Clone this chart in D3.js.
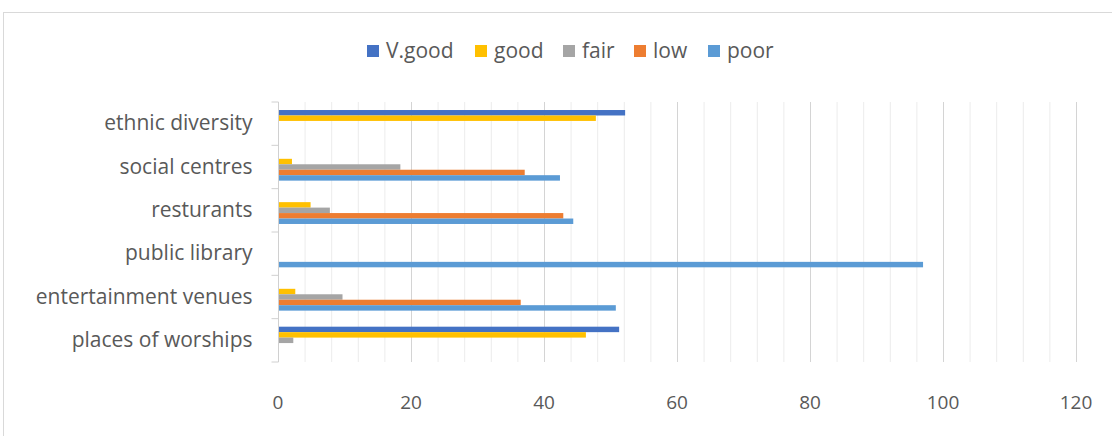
<!DOCTYPE html>
<html>
<head>
<meta charset="utf-8">
<script src="https://cdn.jsdelivr.net/npm/d3@7"></script>
<style>
  body { margin: 0; background: #fff; }
  text { font-family: "Open Sans", "Noto Sans", sans-serif; fill: #595959; }
</style>
</head>
<body>
<script>
const categories = ["ethnic diversity", "social centres", "resturants", "public library", "entertainment venues", "places of worships"]
const series = ["V.good", "good", "fair", "low", "poor"]
const colors = ["#4472C4", "#FFC000", "#A5A5A5", "#ED7D31", "#5B9BD5"]
// one array per series, in category order
const vgood = [52.2, 0, 0, 0, 0, 51.3]
const good = [47.8, 2.1, 4.9, 0, 2.6, 46.3]
const fair = [0, 18.4, 7.8, 0, 9.7, 2.3]
const low = [0, 37.1, 42.9, 0, 36.5, 0]
const poor = [0, 42.4, 44.4, 97, 50.8, 0]
const xTicks = [0, 20, 40, 60, 80, 100, 120]

const values = [vgood, good, fair, low, poor]

const W = 1112, H = 436
const svg = d3.select("body").append("svg")
  .attr("width", W)
  .attr("height", H)

// chart frame
svg.append("rect")
  .attr("x", 3.5).attr("y", 12.5)
  .attr("width", W + 10).attr("height", H + 10)
  .attr("fill", "none")
  .attr("stroke", "#d9d9d9")

const x = d3.scaleLinear().domain([0, 120]).range([278, 1076])
const y = d3.scaleBand().domain(categories).range([102, 362])
const ySub = d3.scaleBand().domain(series).range([0, y.bandwidth()]).paddingOuter(1.47)

// gridlines (minor every 4, major every 20)
const grid = svg.append("g")
grid.selectAll("line.minor")
  .data(d3.range(4, 121, 4).filter(v => v % 20 != 0))
  .join("line")
  .attr("x1", d => x(d) + 0.5).attr("x2", d => x(d) + 0.5)
  .attr("y1", 102).attr("y2", 362)
  .attr("stroke", "#ececec")
grid.selectAll("line.major")
  .data(xTicks.slice(1))
  .join("line")
  .attr("x1", d => x(d) + 0.5).attr("x2", d => x(d) + 0.5)
  .attr("y1", 102).attr("y2", 362)
  .attr("stroke", "#d4d4d4")

// bars
const bars = svg.append("g")
series.forEach((s, si) => {
  bars.selectAll(null)
    .data(categories.map((c, ci) => ({ c, v: values[si][ci] })).filter(d => d.v > 0))
    .join("rect")
    .attr("x", x(0))
    .attr("y", d => y(d.c) + ySub(s))
    .attr("width", d => x(d.v) - x(0))
    .attr("height", ySub.bandwidth())
    .attr("fill", colors[si])
})

// left axis
const yAxis = svg.append("g")
  .attr("transform", "translate(" + (x(0) + 0.5) + ",0)")
  .call(d3.axisLeft(y).tickSize(0).tickPadding(26))
yAxis.select(".domain").remove()
yAxis.append("line")
  .attr("y1", 102).attr("y2", 362)
  .attr("stroke", "#d0d0d0")
yAxis.selectAll("line.tk")
  .data(d3.range(0, categories.length + 1))
  .join("line")
  .attr("class", "tk")
  .attr("x1", -7).attr("x2", 0)
  .attr("y1", i => 102 + i * y.step()).attr("y2", i => 102 + i * y.step())
  .attr("stroke", "#d0d0d0")
yAxis.selectAll(".tick text")
  .attr("font-size", 21)
  .attr("fill", "#595959")
  .style("font-family", "'Open Sans', sans-serif")

// bottom tick labels
svg.append("g").selectAll("text")
  .data(xTicks)
  .join("text")
  .attr("x", d => x(d))
  .attr("y", 409)
  .attr("text-anchor", "middle")
  .attr("font-size", 19)
  .text(d => d)

// legend
const legendX = [367, 475, 563, 634, 708]
const legend = svg.append("g")
series.forEach((s, i) => {
  legend.append("rect")
    .attr("x", legendX[i]).attr("y", 45)
    .attr("width", 12).attr("height", 12)
    .attr("fill", colors[i])
  legend.append("text")
    .attr("x", legendX[i] + 19).attr("y", 58)
    .attr("font-size", 21)
    .text(s)
})
</script>
</body>
</html>
